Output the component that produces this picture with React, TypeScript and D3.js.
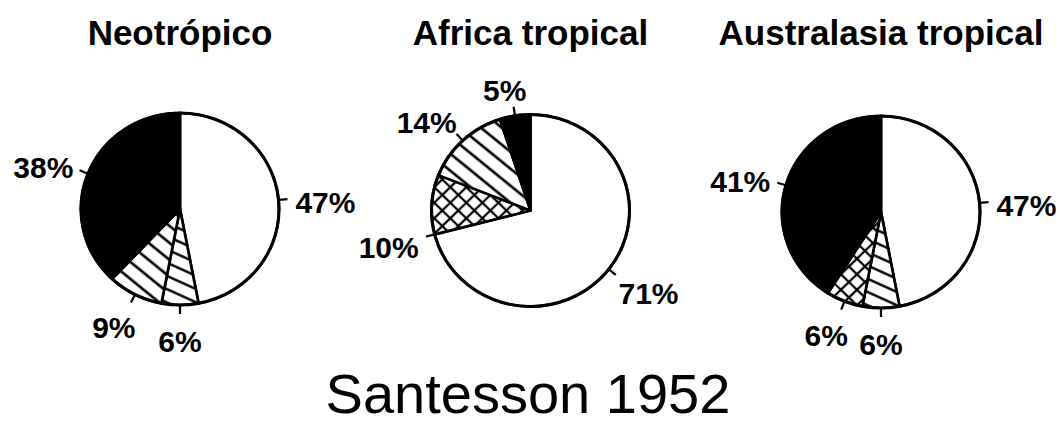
import React from "react";
import * as d3 from "d3";

// pie regions and their slices (percent), clockwise from 12 o'clock
const regions = ["Neotrópico", "Africa tropical", "Australasia tropical"];
const categories = ["open", "lightHatch", "crossHatch", "hatch", "solid"];
const neotropico = [47, 6, 0, 9, 38];
const africaTropical = [71, 0, 10, 14, 5];
const australasiaTropical = [47, 6, 6, 0, 41];
const seriesByRegion = [neotropico, africaTropical, australasiaTropical];
const caption = "Santesson 1952";

const width = 1060;
const height = 429;
const ry = 96;
const rx = 99;
const labelSize = 30;
const font = "'Liberation Sans', Arial, Helvetica, sans-serif";

const fills: Record<string, string> = {
  open: "#fff",
  lightHatch: "url(#lightHatch)",
  crossHatch: "url(#crossHatch)",
  hatch: "url(#hatch)",
  solid: "#000",
};

// one label in the original sits off the slice middle
const labelAngleShift: Record<string, number> = {
  "Africa tropical|crossHatch": -18,
};

const Pie = ({ name, values, cx, cy }: { name: string; values: number[]; cx: number; cy: number }) => {
  const slices = d3
    .pie<number>()
    .sort(null)
    .value((d) => d)(values)
    .map((s, i) => ({ ...s, cat: categories[i] }))
    .filter((s) => s.value > 0);

  const arc = d3.arc<any>().innerRadius(0).outerRadius(ry);

  return (
    <g>
      <text x={cx} y={45} textAnchor="middle" fontFamily={font} fontWeight="bold" fontSize={35}>
        {name}
      </text>
      <g transform={`translate(${cx},${cy}) scale(${rx / ry},1)`}>
        {slices.map((s) => (
          <path key={s.cat} d={arc(s) || ""} fill={fills[s.cat]} stroke="#000" strokeWidth={2.6} strokeLinejoin="round" />
        ))}
        <circle r={ry} fill="none" stroke="#000" strokeWidth={3} />
      </g>
      {slices.map((s) => {
        const shift = labelAngleShift[`${name}|${s.cat}`] || 0;
        const a = (s.startAngle + s.endAngle) / 2 + (shift * Math.PI) / 180;
        const sin = Math.sin(a);
        const cos = Math.cos(a);
        const label = `${s.value}%`;
        const w = label.length * 0.6 * labelSize;
        const px = cx + sin * (rx + 20);
        const py = cy - cos * (ry + 20);
        const tx = px + Math.sign(sin) * Math.sqrt(Math.abs(sin)) * (w / 2);
        const ty = py - cos * 11 + 5;
        return (
          <g key={`l-${s.cat}`}>
            <line
              x1={cx + sin * rx}
              y1={cy - cos * ry}
              x2={cx + sin * (rx + 9)}
              y2={cy - cos * (ry + 9)}
              stroke="#000"
              strokeWidth={2.2}
            />
            <text x={tx} y={ty + 10.5} textAnchor="middle" fontFamily={font} fontWeight="bold" fontSize={labelSize}>
              {label}
            </text>
          </g>
        );
      })}
    </g>
  );
};

export default function App() {
  const x = d3.scalePoint<string>().domain(regions).range([180, 881]);
  const y = d3.scalePoint<string>().domain(regions).range([209, 212]);

  return (
    <svg
      width={width}
      height={height}
      style={{ position: "absolute", left: 0, top: 0, display: "block", background: "#fff" }}
    >
      <defs>
        <pattern id="hatch" patternUnits="userSpaceOnUse" width={13} height={13} patternTransform="rotate(40)">
          <rect width={13} height={13} fill="#fff" />
          <line x1={0} y1={6.5} x2={13} y2={6.5} stroke="#000" strokeWidth={2.6} />
        </pattern>
        <pattern id="lightHatch" patternUnits="userSpaceOnUse" width={12} height={12} patternTransform="rotate(25)">
          <rect width={12} height={12} fill="#fff" />
          <line x1={0} y1={6} x2={12} y2={6} stroke="#000" strokeWidth={2.4} />
        </pattern>
        <pattern id="crossHatch" patternUnits="userSpaceOnUse" width={11} height={11} patternTransform="rotate(45)">
          <rect width={11} height={11} fill="#fff" />
          <line x1={0} y1={5.5} x2={11} y2={5.5} stroke="#000" strokeWidth={2.2} />
          <line x1={5.5} y1={0} x2={5.5} y2={11} stroke="#000" strokeWidth={2.2} />
        </pattern>
      </defs>
      {regions.map((r, i) => (
        <Pie key={r} name={r} values={seriesByRegion[i]} cx={x(r)!} cy={y(r)!} />
      ))}
      <text x={528} y={413} textAnchor="middle" fontFamily={font} fontSize={56}>
        {caption}
      </text>
    </svg>
  );
}
